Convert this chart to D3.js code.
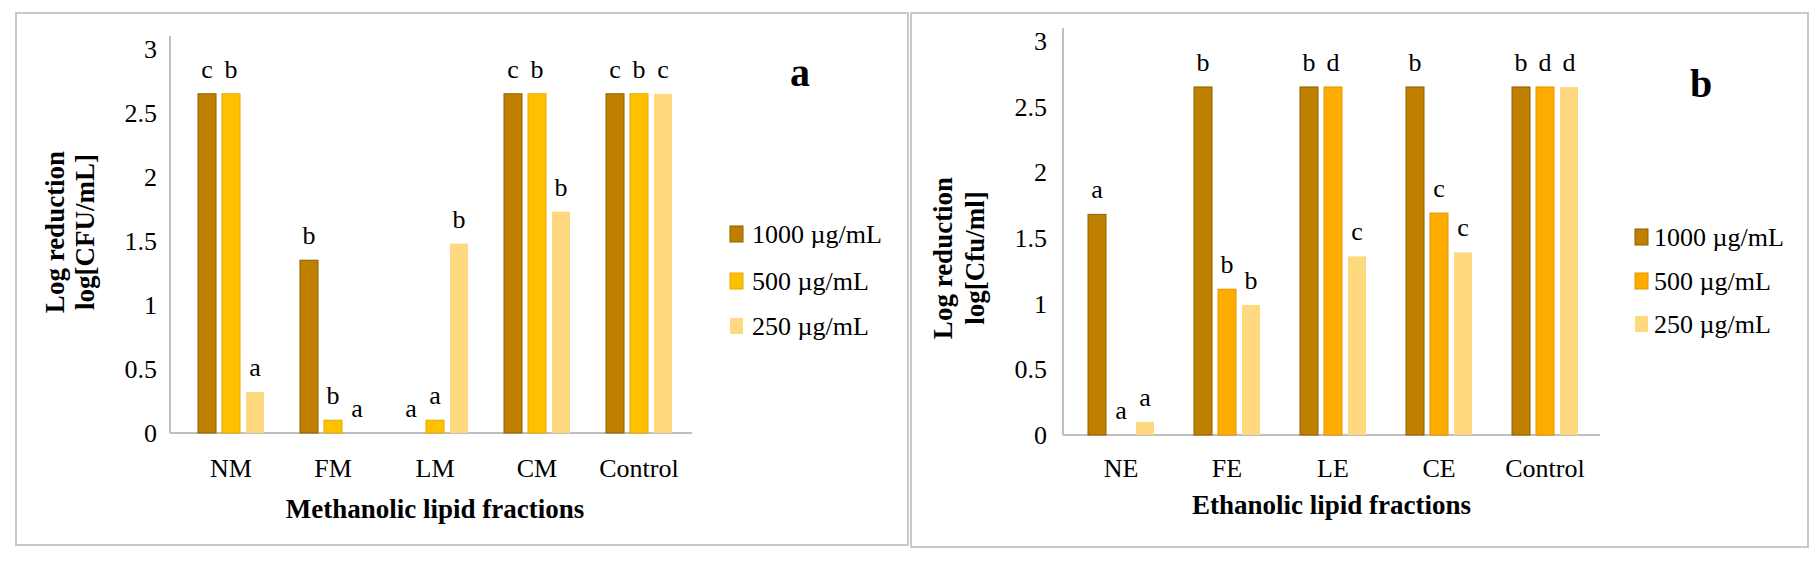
<!DOCTYPE html>
<meta charset="utf-8">
<style>
    body { margin: 0; background: #fff; }
    text { font-family: "Liberation Serif", "Times New Roman", serif; fill: #000; }
    .frame { fill: none; stroke: #c9c9c9; stroke-width: 2; }
    .axisline { stroke: #bfbfbf; stroke-width: 2; }
</style>
<svg width="1815" height="565"></svg>
<script src="https://d3js.org/d3.v7.min.js"></script>
<script>

    // series names (concentrations)
    var seriesNames = ["1000 \u00b5g/mL", "500 \u00b5g/mL", "250 \u00b5g/mL"];
    var yTicks = [0, 0.5, 1, 1.5, 2, 2.5, 3];

    // panel a : methanolic fractions
    var methCategories = ["NM", "FM", "LM", "CM", "Control"];
    var meth1000 = [2.65, 1.35, 0, 2.65, 2.65];
    var meth500 = [2.65, 0.1, 0.1, 2.65, 2.65];
    var meth250 = [0.32, 0, 1.48, 1.73, 2.65];
    var methLetters1000 = ["c", "b", "a", "c", "c"];
    var methLetters500 = ["b", "b", "a", "b", "b"];
    var methLetters250 = ["a", "a", "b", "b", "c"];

    // panel b : ethanolic fractions
    var ethCategories = ["NE", "FE", "LE", "CE", "Control"];
    var eth1000 = [1.68, 2.65, 2.65, 2.65, 2.65];
    var eth500 = [0, 1.11, 2.65, 1.69, 2.65];
    var eth250 = [0.1, 0.99, 1.36, 1.39, 2.65];
    var ethLetters1000 = ["a", "b", "b", "b", "b"];
    var ethLetters500 = ["a", "b", "d", "c", "d"];
    var ethLetters250 = ["a", "b", "c", "c", "d"];

    var svg = d3.select("svg");

    function drawPanel(p) {
        var g = svg.append("g");

        // outer frame
        g.append("rect").attr("class", "frame")
            .attr("x", p.frame[0]).attr("y", p.frame[1])
            .attr("width", p.frame[2]).attr("height", p.frame[3]);

        var y = d3.scaleLinear().domain([0, 3]).range(p.yRange);
        var x0 = d3.scaleBand().domain(p.categories).range(p.xRange);
        var x1 = d3.scaleBand().domain([0, 1, 2]).range([-33, 33]).paddingInner(0.25);

        // axis lines
        g.append("line").attr("class", "axisline")
            .attr("x1", p.axisX).attr("x2", p.axisX)
            .attr("y1", y(3) - 13).attr("y2", y(0));
        g.append("line").attr("class", "axisline")
            .attr("x1", p.axisX).attr("x2", p.axisEnd)
            .attr("y1", y(0)).attr("y2", y(0));

        // y tick labels
        g.selectAll(".ytick").data(yTicks).enter().append("text")
            .attr("x", p.tickX)
            .attr("y", function (d) { return y(d); })
            .attr("dy", "0.35em")
            .attr("text-anchor", "end")
            .style("font-size", "26px")
            .text(function (d) { return d3.format("")(d); });

        // category labels
        g.selectAll(".cat").data(p.categories).enter().append("text")
            .attr("x", function (d) { return x0(d) + x0.bandwidth() / 2; })
            .attr("y", p.catY)
            .attr("text-anchor", "middle")
            .style("font-size", "26px")
            .text(function (d) { return d; });

        // bars + letters
        p.series.forEach(function (vals, s) {
            var bars = vals.map(function (v, i) {
                return { cat: p.categories[i], v: v, letter: p.letters[s][i] };
            });
            var cx = function (d) { return x0(d.cat) + x0.bandwidth() / 2 + x1(s); };
            g.selectAll(".bar" + s).data(bars).enter().append("rect")
                .attr("x", cx)
                .attr("width", x1.bandwidth())
                .attr("y", function (d) { return y(d.v); })
                .attr("height", function (d) { return y(0) - y(d.v); })
                .attr("fill", p.colors[s])
                .attr("stroke", p.strokes[s])
                .attr("stroke-width", p.strokes[s] === "none" ? 0 : 1);
            g.selectAll(".lab" + s).data(bars).enter().append("text")
                .attr("x", function (d) { return cx(d) + x1.bandwidth() / 2; })
                .attr("y", function (d) { return y(d.v) - 16; })
                .attr("text-anchor", "middle")
                .style("font-size", "26px")
                .text(function (d) { return d.letter; });
        });

        // axis titles
        g.append("text")
            .attr("x", (p.axisX + p.axisEnd) / 2 + p.xTitleShift).attr("y", p.xTitleY)
            .attr("text-anchor", "middle")
            .style("font-size", "27px").style("font-weight", "bold")
            .text(p.xTitle);
        p.yTitle.forEach(function (t, i) {
            g.append("text")
                .attr("transform", "translate(" + p.yTitleX[i] + "," + p.yTitleY + ") rotate(-90)")
                .attr("text-anchor", "middle")
                .attr("dominant-baseline", "central")
                .style("font-size", "27px").style("font-weight", "bold")
                .text(t);
        });

        // panel letter
        g.append("text")
            .attr("x", p.tag[0]).attr("y", p.tag[1])
            .attr("text-anchor", "middle")
            .style("font-size", "40px").style("font-weight", "bold")
            .text(p.tag[2]);

        // legend
        seriesNames.forEach(function (name, s) {
            g.append("rect")
                .attr("x", p.legend[0]).attr("y", p.legend[2][s] - 8)
                .attr("width", 13).attr("height", 16)
                .attr("fill", p.colors[s])
                .attr("stroke", p.strokes[s])
                .attr("stroke-width", p.strokes[s] === "none" ? 0 : 1);
            g.append("text")
                .attr("x", p.legend[1]).attr("y", p.legend[2][s])
                .attr("dominant-baseline", "central")
                .style("font-size", "26px")
                .text(name);
        });
    }

    drawPanel({
        frame: [16, 13, 892, 532],
        categories: methCategories,
        series: [meth1000, meth500, meth250],
        letters: [methLetters1000, methLetters500, methLetters250],
        colors: ["#bf8000", "#ffc000", "#ffd97f"],
        strokes: ["#8c5e00", "#e6a800", "none"],
        yRange: [433, 49],
        xRange: [180, 690],
        axisX: 170, axisEnd: 692,
        tickX: 157, catY: 477,
        xTitle: "Methanolic lipid  fractions", xTitleY: 518, xTitleShift: 4,
        yTitle: ["Log reduction", "log[CFU/mL]"], yTitleX: [55, 85], yTitleY: 232,
        tag: [800, 86, "a"],
        legend: [730, 752, [234, 281, 326]]
    });

    drawPanel({
        frame: [911, 13, 897, 534],
        categories: ethCategories,
        series: [eth1000, eth500, eth250],
        letters: [ethLetters1000, ethLetters500, ethLetters250],
        colors: ["#bf8000", "#ffac00", "#ffd97f"],
        strokes: ["#8c5e00", "#e69500", "none"],
        yRange: [435, 41],
        xRange: [1068, 1598],
        axisX: 1063, axisEnd: 1600,
        tickX: 1047, catY: 477,
        xTitle: "Ethanolic lipid fractions", xTitleY: 514, xTitleShift: 0,
        yTitle: ["Log reduction", "log[Cfu/ml]"], yTitleX: [943, 975], yTitleY: 258,
        tag: [1701, 97, "b"],
        legend: [1635, 1654, [237, 281, 324]]
    });

</script>
